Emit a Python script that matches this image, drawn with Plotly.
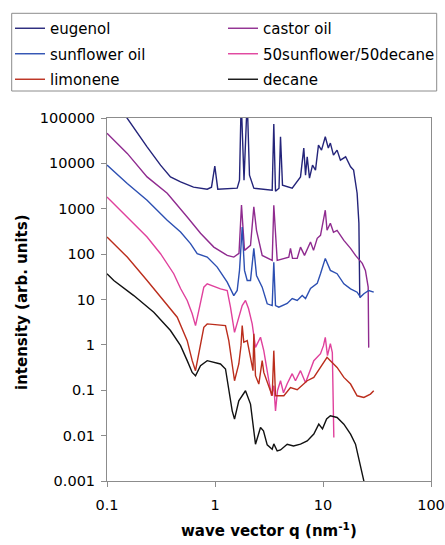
import plotly.graph_objects as go

# ---- scattering curves: wave vector q (nm^-1) and intensity (arb. units) ----
eugenol_q = [0.1, 0.154, 0.235, 0.313, 0.387, 0.480, 0.632, 0.847, 0.928, 0.996, 1.061,
             1.605, 1.686, 1.748, 1.856, 1.987, 2.086, 2.288, 3.385, 3.503, 3.633, 3.914,
             4.042, 4.217, 5.186, 5.77, 6.19, 6.64, 6.89, 7.14, 7.50, 8.00, 8.52, 9.08,
             9.69, 10.5, 11.2, 11.7, 12.5, 13.5, 14.5, 16.2, 18.0, 19.2, 20.0, 20.7, 21.5, 21.9]
eugenol_i = [340000, 98500, 23200, 9150, 5040, 3910, 2990, 2700, 2990, 8700, 2700,
             2840, 4270, 250000, 4270, 250000, 5500, 2840, 2560, 73600, 2440, 2840,
             38600, 3300, 2840, 3910, 5040, 21700, 5500, 13960, 4720, 9150, 7100, 25300,
             19600, 38600, 21700, 28000, 15200, 19600, 11800, 13960, 8400, 7100, 3910, 2200, 479, 11.1]

castor_q = [0.1, 0.154, 0.235, 0.361, 0.553, 0.734, 0.975, 1.297, 1.493, 1.668, 1.759,
            1.876, 2.132, 2.288, 2.423, 2.735, 3.385, 3.503, 3.766, 4.824, 5.00, 5.22,
            5.77, 6.19, 6.74, 7.66, 8.17, 8.84, 9.48, 10.5, 10.9, 11.7, 12.5, 13.5,
            15.6, 18.0, 20.0, 23.1, 24.7, 26.2, 26.5]
castor_i = [45900, 16600, 5040, 2200, 659, 288, 143, 93.7, 86.1, 104, 1200,
            121, 156, 1100, 335, 93.7, 72.8, 1190, 72.8, 86.1, 134, 80.5,
            80.5, 143, 93.7, 185, 121, 223, 259, 927, 335, 479, 303, 335,
            201, 134, 93.7, 62.5, 43.8, 18.7, 0.87]

sunflower_q = [0.1, 0.154, 0.235, 0.361, 0.480, 0.593, 0.684, 0.847, 1.048, 1.297, 1.493,
               1.605, 1.686, 1.786, 1.876, 1.987, 2.132, 2.288, 2.423, 2.735, 3.043, 3.385,
               3.503, 3.633, 3.90, 4.66, 5.186, 5.77, 6.42, 6.89, 7.66, 8.84, 9.48, 10.5,
               11.7, 13.5, 15.6, 18.0, 20.7, 22.2, 23.9, 26.5, 29.5]
sunflower_i = [9150, 3600, 1540, 557, 307, 170, 102, 86.1, 51.8, 24.1, 12.2,
               15.8, 43.8, 396, 43.8, 26.3, 26.3, 134, 33.9, 18.7, 8.04, 7.36,
               65.8, 7.36, 6.76, 8.17, 10.5, 9.51, 12.2, 10.5, 17.5, 22.6, 37.0, 80.5,
               43.8, 37.0, 22.2, 17.2, 14.5, 11.3, 13.4, 15.8, 14.5]

mix_q = [0.1, 0.154, 0.235, 0.313, 0.415, 0.480, 0.553, 0.615, 0.660, 0.708, 0.788,
         0.847, 1.124, 1.297, 1.391, 1.516, 1.661, 1.786, 1.916, 2.043, 2.21, 2.371,
         2.638, 2.83, 3.15, 3.34, 3.503, 3.633, 3.79, 4.042, 4.31, 4.66, 5.186, 5.56,
         6.19, 6.89, 8.22, 9.48, 10.1, 10.5, 11.0, 11.7, 12.2, 12.6]
mix_i = [1820, 659, 238, 102, 37.0, 17.5, 9.51, 4.83, 2.66, 5.71, 18.7,
         22.2, 17.2, 15.8, 6.76, 1.89, 4.07, 7.36, 9.51, 6.32, 2.90, 0.883,
         1.47, 0.746, 0.162, 0.0755, 0.126, 0.0352, 0.0975, 0.162, 0.0881, 0.139, 0.232, 0.162,
         0.270, 0.147, 0.449, 0.641, 0.962, 1.47, 0.578, 1.07, 0.675, 0.00906]

limonene_q = [0.1, 0.154, 0.235, 0.313, 0.447, 0.553, 0.615, 0.660, 0.708, 0.788, 0.847,
              1.251, 1.342, 1.443, 1.516, 1.661, 1.741, 1.786, 1.848, 1.987, 2.132, 2.249,
              2.288, 2.371, 2.545, 2.735, 2.83, 3.15, 3.385, 3.503, 3.633, 4.34, 5.00,
              5.77, 7.14, 8.22, 9.48, 10.9, 11.7, 13.5, 15.6, 18.0, 20.7, 23.9, 27.5, 29.5]
limonene_i = [238, 86.1, 26.3, 11.3, 4.07, 1.24, 0.449, 0.270, 0.631, 2.44, 2.90,
              2.66, 1.24, 0.319, 0.162, 0.379, 0.962, 2.66, 1.14, 1.24, 0.549, 0.270,
              1.75, 0.209, 0.137, 0.449, 0.247, 0.115, 0.0755, 0.746, 0.0755, 0.0755, 0.115,
              0.103, 0.162, 0.192, 0.319, 0.531, 0.449, 0.319, 0.192, 0.137, 0.0755, 0.0693, 0.0824, 0.0975]

decane_q = [0.1, 0.1156, 0.177, 0.271, 0.387, 0.480, 0.553, 0.615, 0.660, 0.734, 0.847,
            1.124, 1.251, 1.342, 1.443, 1.516, 1.661, 1.916, 2.132, 2.371, 2.638, 2.81,
            3.043, 3.385, 3.503, 3.766, 4.042, 4.66, 5.33, 6.19, 7.14, 8.22, 9.14, 9.89,
            10.8, 11.7, 13.5, 15.6, 18.0, 20.0, 22.2, 23.9, 24.2]
decane_i = [37.0, 26.3, 12.2, 5.24, 2.07, 0.962, 0.449, 0.247, 0.209, 0.347, 0.449,
            0.379, 0.294, 0.115, 0.0352, 0.0231, 0.0586, 0.0975, 0.0495, 0.00647, 0.0151, 0.0127,
            0.00625, 0.00502, 0.00658, 0.00460, 0.00484, 0.00647, 0.00593, 0.00647, 0.00766, 0.0108, 0.0179, 0.0141,
            0.0234, 0.0273, 0.0251, 0.0179, 0.0108, 0.00647, 0.00234, 0.001, 0.0006]

x_ticks = [0.1, 1, 10, 100]
x_tick_text = ["0.1", "1", "10", "100"]
y_ticks = [0.001, 0.01, 0.1, 1, 10, 100, 1000, 10000, 100000]
y_tick_text = ["0.001", "0.01", "0.1", "1", "10", "100", "1000", "10000", "100000"]

FONT = "DejaVu Sans, Verdana, sans-serif"

# (name, q, intensity, colour, legend column)
series = [
    ("eugenol", eugenol_q, eugenol_i, "#24247a", "legend"),
    ("castor oil", castor_q, castor_i, "#8f2b8f", "legend2"),
    ("sunflower oil", sunflower_q, sunflower_i, "#2c4fb2", "legend"),
    ("50sunflower/50decane", mix_q, mix_i, "#e0419c", "legend2"),
    ("limonene", limonene_q, limonene_i, "#bb2d1c", "legend"),
    ("decane", decane_q, decane_i, "#111111", "legend2"),
]

fig = go.Figure()
for name, q, inten, colour, leg in series:
    fig.add_trace(go.Scatter(
        x=q, y=inten, mode="lines", name=name, legend=leg, legendgroup=name,
        line=dict(color=colour, width=1.4),
    ))

L, R, T, B = 107, 14, 118, 64
W, H = 445, 545
pw, ph = W - L - R, H - T - B


def px_to_paper(x, y):
    return (x - L) / pw, (H - B - y) / ph


lx0, ly0 = px_to_paper(11.7, 91)
lx1, ly1 = px_to_paper(436.7, 13.3)
c1x, top_y = px_to_paper(10, 12)
c2x, _ = px_to_paper(223, 12)

legend_style = dict(
    font=dict(family=FONT, size=15, color="#000000"),
    bgcolor="rgba(0,0,0,0)", borderwidth=0, tracegroupgap=3,
    orientation="v", xanchor="left", yanchor="top", y=top_y,
    itemwidth=30,
)

axis_common = dict(
    type="log", showgrid=False, zeroline=False,
    showline=True, linecolor="#8c8c8c", linewidth=1, mirror=True,
    ticks="outside", ticklen=5, tickcolor="#8c8c8c",
    tickfont=dict(family=FONT, size=14.5, color="#000000"),
)

fig.update_layout(
    width=W, height=H,
    margin=dict(l=L, r=R, t=T, b=B, pad=0, autoexpand=False),
    paper_bgcolor="white", plot_bgcolor="white",
    font=dict(family=FONT, color="#000000"),
    showlegend=True,
    legend=dict(x=c1x, **legend_style),
    legend2=dict(x=c2x, **legend_style),
    xaxis=dict(range=[-1, 2], tickvals=x_ticks, ticktext=x_tick_text,
               ticklabelstandoff=6, **axis_common),
    yaxis=dict(range=[-3, 5], tickvals=y_ticks, ticktext=y_tick_text,
               ticklabelstandoff=3, **axis_common),
    shapes=[dict(type="rect", xref="paper", yref="paper",
                 x0=lx0, x1=lx1, y0=ly0, y1=ly1,
                 line=dict(color="#8c8c8c", width=1), fillcolor="rgba(0,0,0,0)")],
    annotations=[
        dict(text="<b>wave vector q (nm<sup>-1</sup>)</b>", xref="paper", yref="paper",
             x=0.5, y=px_to_paper(0, 530)[1], xanchor="center", yanchor="middle",
             showarrow=False, font=dict(family=FONT, size=15, color="#000000")),
        dict(text="<b>intensity (arb. units)</b>", xref="paper", yref="paper",
             x=px_to_paper(22, 0)[0], y=px_to_paper(0, 302)[1], textangle=-90,
             xanchor="center", yanchor="middle",
             showarrow=False, font=dict(family=FONT, size=15, color="#000000")),
    ],
)

fig.write_html("out.html")
